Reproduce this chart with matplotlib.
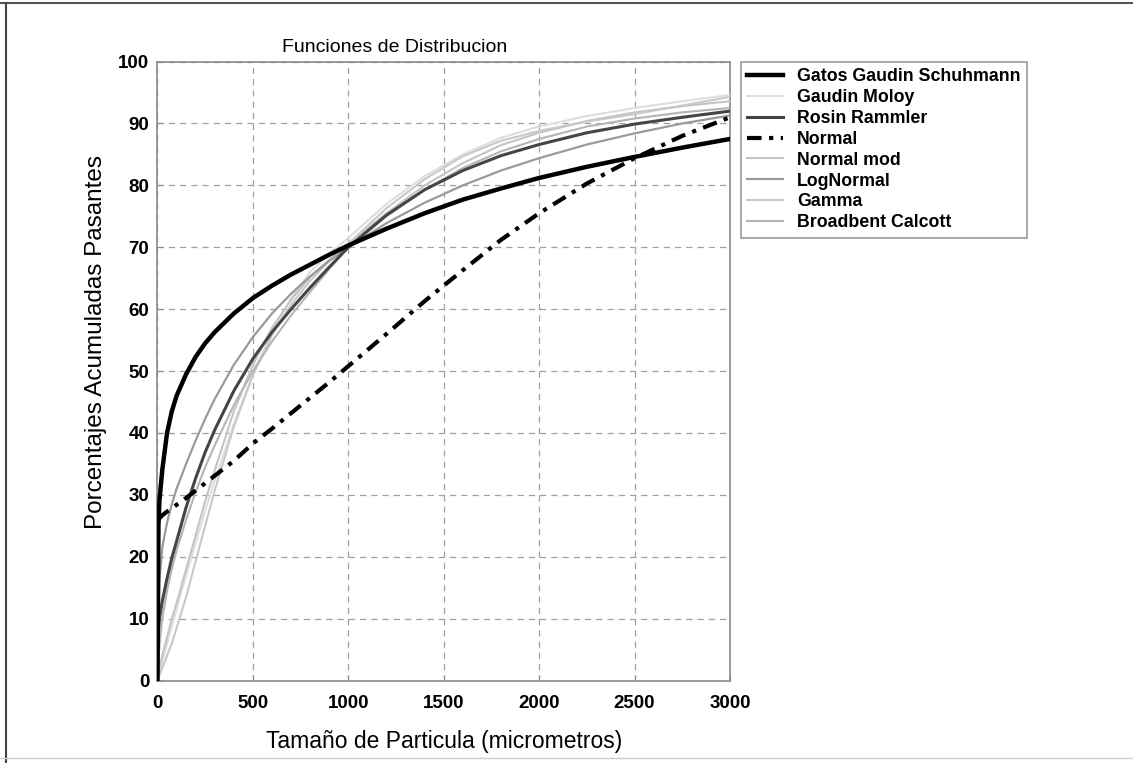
import matplotlib
matplotlib.use("Agg")
import matplotlib.pyplot as plt
from matplotlib.lines import Line2D

plt.rcParams['font.family'] = ['Liberation Sans', 'DejaVu Sans']

# tamaño de particula (micrometros)
tamano = [0, 5, 10, 25, 50, 75, 100, 150, 200, 250, 300, 400, 500, 600, 700,
          800, 900, 1000, 1200, 1400, 1600, 1800, 2000, 2250, 2500, 2750, 3000]

# porcentajes acumulados pasantes por modelo
ggs = [0, 25, 29, 34, 40, 43.5, 46, 49.5, 52.3, 54.5, 56.3, 59.3, 61.8, 63.8, 65.6,
       67.2, 68.8, 70.3, 73, 75.5, 77.7, 79.5, 81.2, 83, 84.6, 86.1, 87.5]
gaudin_moloy = [0, 0.6, 1.2, 3, 6, 8.8, 11.5, 17, 22.3, 27.5, 32.3, 41.5, 49.5, 56.2, 61.8,
                66, 69, 71.5, 77, 81.5, 85, 87.7, 89.5, 91.2, 92.5, 93.6, 94.6]
rosin_rammler = [0, 8, 10, 12.8, 16.5, 19.8, 22.5, 28, 32.7, 36.9, 40.5, 46.8, 52, 56.3, 60,
                 63.5, 66.8, 70, 75.2, 79.3, 82.4, 84.8, 86.6, 88.5, 89.9, 91, 92]
normal = [26, 26.1, 26.2, 26.7, 27.3, 27.8, 28.4, 29.5, 30.7, 31.9, 33.1, 35.5, 38.3, 40.7, 43.2,
          45.7, 48.2, 50.8, 56, 61.3, 66.3, 71.2, 75.5, 80.3, 84.4, 88, 91]
normal_mod = [0, 1, 2, 4, 7, 10, 12.5, 18, 23.5, 29, 34, 43.5, 51, 57, 61.5,
              65.2, 68, 70.5, 75.5, 80, 83.6, 86.5, 88.5, 90.4, 91.8, 92.8, 93.6]
lognormal = [0, 12, 16, 21.5, 25.5, 28.5, 31, 35, 38.8, 42.3, 45.5, 51, 55.5, 59.3, 62.5,
             65.3, 67.8, 70, 73.9, 77.2, 80, 82.4, 84.4, 86.6, 88.4, 90, 91.3]
gamma = [0, 0.4, 0.8, 2, 4, 6, 8.5, 13.5, 19.3, 25, 30.7, 41, 49.3, 55.8, 60.7,
         64.6, 67.8, 70.6, 76.3, 81, 84.7, 87.2, 88.8, 90.3, 91.5, 92.9, 94.3]
broadbent = [0, 3, 5.5, 10, 14.5, 18, 21, 26, 30.5, 34.5, 38, 44.5, 50, 54.8, 59,
             62.8, 66.5, 70, 75, 79.3, 82.8, 85.5, 87.5, 89.5, 90.8, 91.8, 92.5]

nombres = ['Gatos Gaudin Schuhmann', 'Gaudin Moloy', 'Rosin Rammler', 'Normal',
           'Normal mod', 'LogNormal', 'Gamma', 'Broadbent Calcott']

fig = plt.figure(figsize=(11.33, 7.63), dpi=100)
ax = fig.add_axes([0.139, 0.108, 0.5053, 0.8113])

ax.plot(tamano, ggs, color='black', lw=3.2, zorder=6, label=nombres[0])
ax.plot(tamano, gaudin_moloy, color='#dedede', lw=1.5, zorder=3, label=nombres[1])
ax.plot(tamano, rosin_rammler, color='#454545', lw=2.2, zorder=5, label=nombres[2])
ax.plot(tamano, normal, color='black', lw=3.0, ls=(0, (3.5, 1.8, 1, 1.8)), zorder=6,
        label=nombres[3])
ax.plot(tamano, normal_mod, color='#c4c4c4', lw=1.5, zorder=3, label=nombres[4])
ax.plot(tamano, lognormal, color='#9a9a9a', lw=1.6, zorder=4, label=nombres[5])
ax.plot(tamano, gamma, color='#c8c8c8', lw=1.5, zorder=3, label=nombres[6])
ax.plot(tamano, broadbent, color='#b4b4b4', lw=1.5, zorder=3, label=nombres[7])

ax.set_xlim(0, 3000)
ax.set_ylim(0, 100)
ax.set_xticks(range(0, 3001, 500))
ax.set_yticks(range(0, 101, 10))
ax.grid(True, color='#a0a0a0', ls=(0, (5, 4)), lw=0.9)
ax.tick_params(direction='in', length=4, color='#888888', labelsize=13.5)
ax.tick_params(axis='x', pad=10.5)
ax.tick_params(axis='y', pad=6)
for lab in ax.get_xticklabels() + ax.get_yticklabels():
    lab.set_fontweight('bold')
for s in ax.spines.values():
    s.set_color('#8a8a8a')
    s.set_linewidth(1.2)

ax.set_title('Funciones de Distribucion', fontsize=14, x=0.415, pad=7)
ax.set_xlabel('Tamaño de Particula (micrometros)', fontsize=16.5, labelpad=13)
ax.set_ylabel('Porcentajes Acumuladas Pasantes', fontsize=17.5)
ax.yaxis.set_label_coords(-0.088, 0.547)

leg = ax.legend(loc='upper left', bbox_to_anchor=(0.654, 0.919),
                bbox_transform=fig.transFigure, fancybox=False, framealpha=1,
                edgecolor='#999999', prop={'size': 12.8, 'weight': 'bold'},
                handlelength=2.0, handletextpad=0.8, labelspacing=0.22,
                borderpad=0.35, borderaxespad=0)
leg.get_frame().set_linewidth(1.2)

# marco de la figura
fig.add_artist(Line2D([0, 1], [0.996, 0.996], transform=fig.transFigure,
                      color='#555555', lw=1.5))
fig.add_artist(Line2D([0.0055, 0.0055], [0, 0.996], transform=fig.transFigure,
                      color='#444444', lw=1.5))
fig.add_artist(Line2D([0, 1], [0.007, 0.007], transform=fig.transFigure,
                      color='#cccccc', lw=1.0))

fig.savefig('out.png', dpi=100)
